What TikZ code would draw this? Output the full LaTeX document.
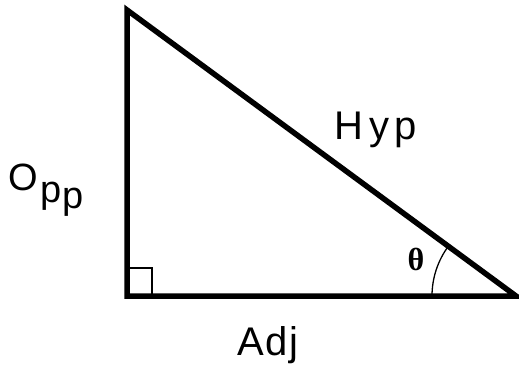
\documentclass[tikz,border=0pt]{standalone}
\usepackage{fontspec}
\setmainfont{Liberation Sans}
\newfontfamily\serifgr{Liberation Serif}
\begin{document}
\begin{tikzpicture}[x=1pt,y=-1pt,
  edge/.style={line width=5.5pt,line cap=round,line join=miter},
  hand/.style={inner sep=0pt}]
\useasboundingbox (0,0) rectangle (519,388);
\coordinate (A) at (127,10);
\coordinate (B) at (127,296);
\coordinate (C) at (516,296);
\draw[edge] (A) -- (B) -- (C) -- cycle;
\draw[line width=2.5pt] (127,268) -| (152,296);
\draw[line width=1.3pt] (C) ++(180:84) arc[start angle=180,end angle=216.3,radius=84];
\node[font=\serifgr\bfseries\fontsize{32}{34}\selectfont,inner sep=0pt] (th) at (416,259) {θ};
\node[hand,font=\fontsize{40}{42}\selectfont\addfontfeature{LetterSpace=14}] (hyp) at (376,130) {Hyp};
\node[hand,font=\fontsize{40}{42}\selectfont\addfontfeature{LetterSpace=4}] (adj) at (268,345) {Adj};
\node[hand,font=\fontsize{38}{40}\selectfont] (opp) at (46,190) {\raisebox{9pt}{O}\hspace{2pt}\raisebox{-3pt}{p}\hspace{1pt}\raisebox{-9pt}{p}};
\end{tikzpicture}
\end{document}
